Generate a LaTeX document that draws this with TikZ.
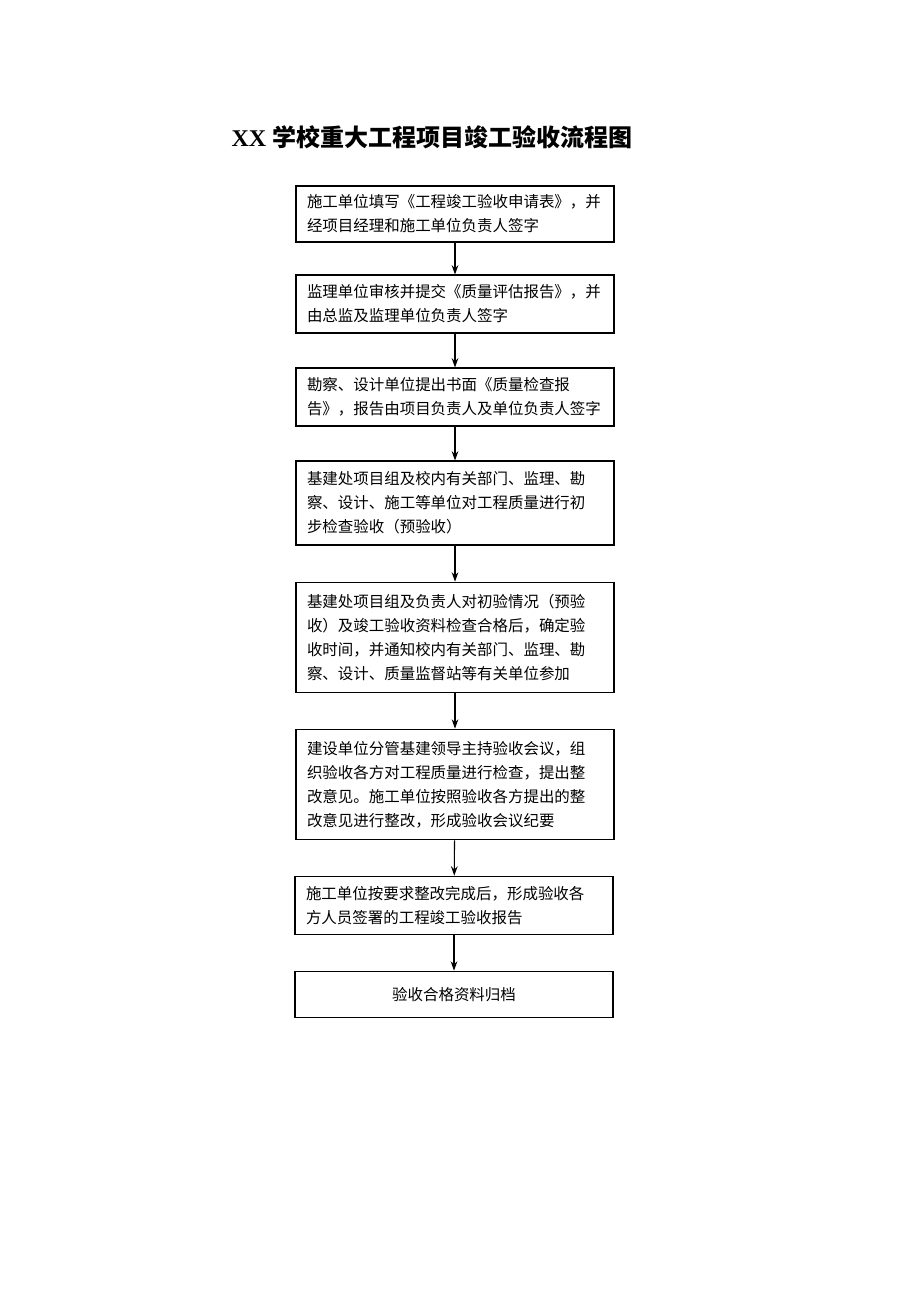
\documentclass[tikz,border=0pt]{standalone}
\usepackage{fontspec}
\setmainfont{Liberation Serif}
\newfontfamily\cjk{Noto Sans CJK SC}
\usetikzlibrary{arrows.meta,positioning}

\tikzset{
  stage/.style={draw, line width=0.8pt, minimum width=238.5pt, inner xsep=8pt,
    text width=222pt, align=left, font=\cjk\fontsize{11.6}{18}\selectfont},
  flow/.style={-{Stealth[length=7pt,width=5pt]}, line width=0.8pt}
}

\begin{document}
\begin{tikzpicture}[x=0.75pt,y=-0.75pt]
\useasboundingbox (0,0) rectangle (920,1302);
\node[font=\bfseries\fontsize{18}{22}\selectfont] (title) at (432,137) {XX {\cjk 学校重大工程项目竣工验收流程图}};

\node[stage, minimum height=42pt] (b1) at (455,214)
  {施工单位填写《工程竣工验收申请表》，并\\经项目经理和施工单位负责人签字};
\node[stage, minimum height=43.5pt] (b2) at (455,304)
  {监理单位审核并提交《质量评估报告》，并\\由总监及监理单位负责人签字};
\node[stage, minimum height=43.5pt] (b3) at (455,397)
  {勘察、设计单位提出书面《质量检查报\\告》，报告由项目负责人及单位负责人签字};
\node[stage, minimum height=63pt] (b4) at (455,503)
  {基建处项目组及校内有关部门、监理、勘\\察、设计、施工等单位对工程质量进行初\\步检查验收（预验收）};
\node[stage, minimum height=83pt] (b5) at (455,637.5)
  {基建处项目组及负责人对初验情况（预验\\收）及竣工验收资料检查合格后，确定验\\收时间，并通知校内有关部门、监理、勘\\察、设计、质量监督站等有关单位参加};
\node[stage, minimum height=83pt] (b6) at (455,784.5)
  {建设单位分管基建领导主持验收会议，组\\织验收各方对工程质量进行检查，提出整\\改意见。施工单位按照验收各方提出的整\\改意见进行整改，形成验收会议纪要};
\node[stage, minimum height=44pt] (b7) at (454,905.5)
  {施工单位按要求整改完成后，形成验收各\\方人员签署的工程竣工验收报告};
\node[stage, minimum height=35pt, align=center] (b8) at (454,994.5)
  {验收合格资料归档};

\foreach \a/\b in {b1/b2,b2/b3,b3/b4,b4/b5,b5/b6,b6/b7,b7/b8}
  \draw[flow] (\a) -- (\b);
\end{tikzpicture}
\end{document}
